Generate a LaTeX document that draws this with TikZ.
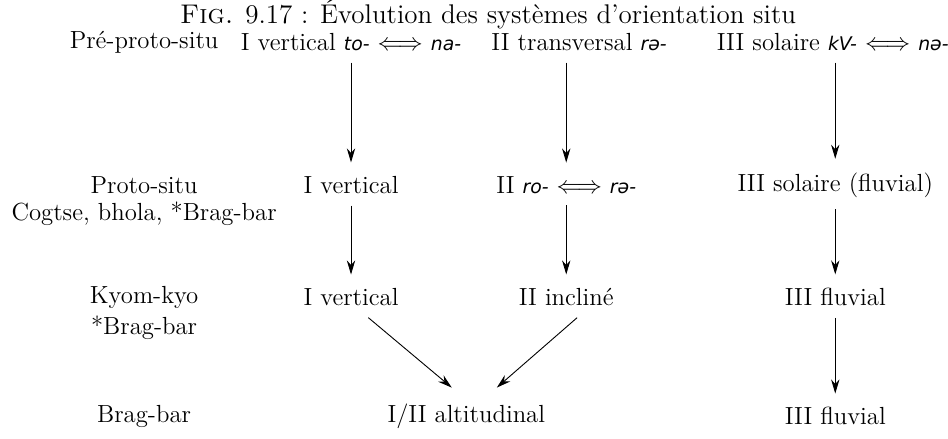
\documentclass[tikz,border=0pt]{standalone}
\usepackage{fontspec}
\newfontfamily\ipafont{DejaVu Sans}[Scale=0.76]
\newcommand{\vform}[1]{{\ipafont\itshape #1}}
\usetikzlibrary{arrows.meta}
\tikzset{
  stage/.style={inner sep=1pt},
  form/.style={inner sep=5pt},
  evol/.style={-{Stealth[length=2.2mm,width=1.3mm]},shorten >=1pt}
}
\begin{document}
\begin{tikzpicture}[font=\fontsize{11}{13}\selectfont]
\useasboundingbox (0,0) rectangle (14.8,-6.84);
% titre
\node (titre) at (7.62,-0.22) {\fontsize{12}{14}\selectfont\textsc{Fig.} 9.17 : Évolution des systèmes d'orientation situ};
% stades
\node[stage] (pps) at (2.25,-0.66) {Pré-proto-situ};
\node[stage] (ps) at (2.25,-2.89) {Proto-situ};
\node[stage] (psb) at (2.25,-3.33) {Cogtse, bhola, *Brag-bar};
\node[stage] (kk) at (2.25,-4.64) {Kyom-kyo};
\node[stage] (kkb) at (2.25,-5.12) {*Brag-bar};
\node[stage] (bb) at (2.25,-6.50) {Brag-bar};
% systemes
\node[form] (a1) at (5.48,-0.66) {I vertical \vform{to-} $\Longleftrightarrow$ \vform{na-}};
\node[form] (b1) at (9.04,-0.66) {II transversal \vform{rə-}};
\node[form] (c1) at (13.0,-0.66) {III solaire \vform{kV-} $\Longleftrightarrow$ \vform{nə-}};
\node[form] (a2) at (5.48,-2.89) {I vertical};
\node[form] (b2) at (8.84,-2.89) {II \vform{ro-} $\Longleftrightarrow$ \vform{rə-}};
\node[form] (c2) at (13.04,-2.89) {III solaire (fluvial)};
\node[form] (a3) at (5.48,-4.64) {I vertical};
\node[form] (b3) at (8.84,-4.64) {II incliné};
\node[form] (c3) at (13.04,-4.64) {III fluvial};
\node[form] (ab4) at (7.28,-6.50) {I/II altitudinal};
\node[form] (c4) at (13.04,-6.50) {III fluvial};
% evolution
\draw[evol] (a1) -- (a2);
\draw[evol] (b1.south -| b2) -- (b2);
\draw[evol] (c1.south -| c2) -- (c2);
\draw[evol] (a2) -- (a3);
\draw[evol] (b2) -- (b3);
\draw[evol] (c2) -- (c3);
\draw[evol] ([xshift=0.27cm]a3.south) -- ([xshift=-0.2cm,yshift=0.05cm]ab4.north);
\draw[evol] ([xshift=0.17cm]b3.south) -- ([xshift=0.45cm,yshift=0.05cm]ab4.north);
\draw[evol] (c3) -- (c4);
\end{tikzpicture}
\end{document}
